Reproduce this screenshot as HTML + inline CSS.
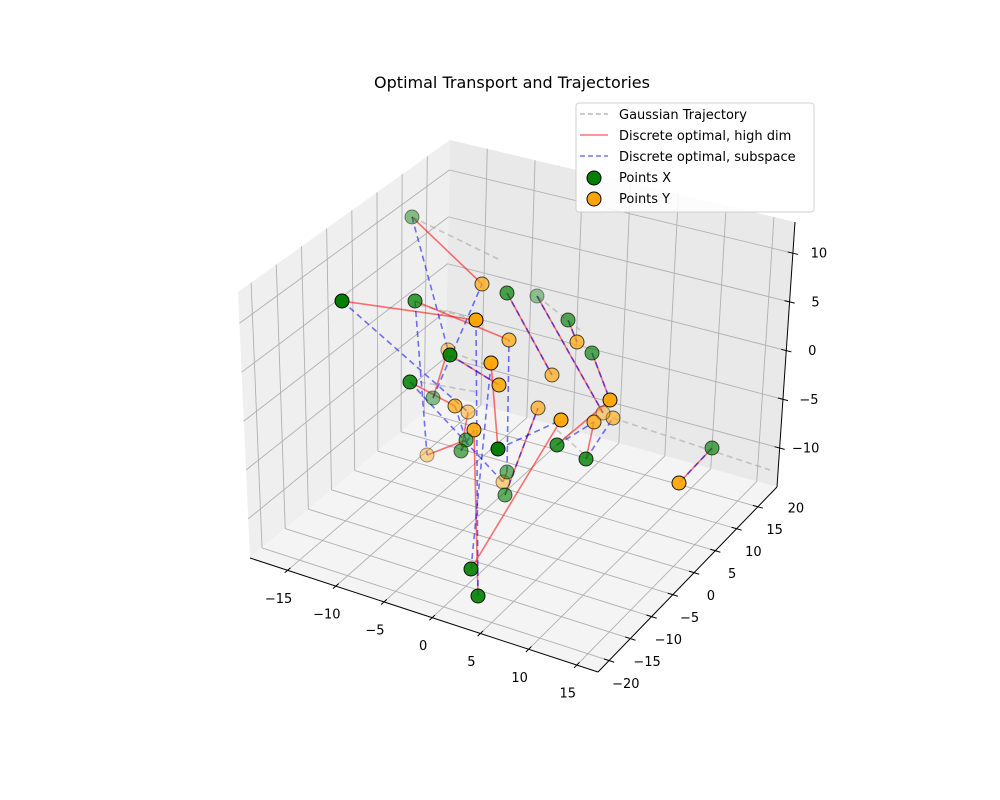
<!DOCTYPE html>
<html><head><meta charset="utf-8"><style>
body{margin:0;background:#fff}
svg{display:block;font-family:"DejaVu Sans","Liberation Sans",sans-serif}
</style></head><body>
<svg id="chart" width="1000" height="800" viewBox="0 0 1000 800">
<rect width="1000" height="800" fill="#fff"/>
<text x="512" y="88" text-anchor="middle" font-size="16">Optimal Transport and Trajectories</text>
<g id="panes"></g>
<g id="grid"></g>
<g id="axes"></g>
<g id="traj"></g>
<g id="red"></g>
<g id="blue"></g>
<g id="pts"></g>
<g>
<rect x="576" y="103" width="238" height="109" rx="3" fill="#fff" fill-opacity="0.85" stroke="#d0d0d0"/>
<line x1="580" y1="114" x2="608" y2="114" stroke="#b8b8b8" stroke-dasharray="5,3" stroke-width="1.5"/>
<text x="619" y="119" font-size="13">Gaussian Trajectory</text>
<line x1="580" y1="135" x2="608" y2="135" stroke="#ff0000" stroke-opacity="0.55" stroke-width="1.5"/>
<text x="619" y="140" font-size="13">Discrete optimal, high dim</text>
<line x1="580" y1="156" x2="608" y2="156" stroke="#0000ff" stroke-opacity="0.55" stroke-dasharray="5,3" stroke-width="1.5"/>
<text x="619" y="161" font-size="13">Discrete optimal, subspace</text>
<circle cx="594" cy="178" r="7" fill="green" stroke="#000"/>
<text x="619" y="182" font-size="13">Points X</text>
<circle cx="594" cy="199" r="7" fill="orange" stroke="#000"/>
<text x="619" y="203" font-size="13">Points Y</text>
</g>
</svg>
<script>
// ---- axis data ----
const xTicks=[-15,-10,-5,0,5,10,15];
const yTicks=[-20,-15,-10,-5,0,5,10,15,20];
const zTicks=[-10,-5,0,5,10];
const xRange=[-18.9,17.2], yRange=[-17.6,24.5], zRange=[-14.0,13.2];
// ---- series data (projected view-plane coordinates) ----
const xPtsU=[-8.8,-15.8,-8.5,0.7,3.7,6.8,9.2,-5.0,-9.0,-6.7,-3.4,-3.9,-0.2,5.7,8.6,21.2,0.7,0.5,-2.9,-2.2];
const xPtsV=[18.3,9.9,9.9,10.7,10.4,8.0,4.7,4.5,1.8,0.2,-4.0,-5.1,-4.9,-4.5,-5.9,-4.8,-7.2,-9.5,-16.9,-19.6];
const xPtsA=[0.45,1,0.75,0.7,0.4,0.65,0.65,0.9,0.85,0.45,0.6,0.6,1,0.8,0.8,0.65,0.55,0.6,0.9,0.9];
const yPtsU=[-1.8,-2.4,0.9,7.7,-5.2,-0.9,-0.1,5.2,-4.5,-3.2,3.8,-2.6,6.1,11.0,9.4,11.3,10.3,-7.3,0.3,17.9];
const yPtsV=[11.6,8.0,6.0,5.8,5.0,3.7,1.5,2.5,-0.6,-1.2,-0.8,-3.0,-2.0,0.0,-2.2,-1.8,-1.3,-5.5,-8.2,-8.3];
const yPtsA=[0.7,1,0.7,0.7,0.45,0.95,0.85,0.65,0.7,0.5,0.65,0.85,0.95,0.95,0.75,0.6,0.45,0.4,0.45,0.9];
const redPairs=[[0,0],[1,1],[2,2],[3,7],[4,16],[5,3],[6,13],[7,6],[8,8],[9,4],[10,17],[11,9],[12,5],[13,13],[14,14],[15,19],[16,18],[17,10],[18,12],[19,11]];
const bluePairs=[[0,4],[1,9],[2,17],[3,7],[4,16],[5,3],[6,13],[7,6],[8,18],[9,0],[10,8],[11,11],[12,12],[13,14],[14,15],[15,19],[16,2],[17,10],[18,5],[19,1]];
const trajStartU=[-8.8,-8,-3.8,-8,3.7,11.3,5.7];
const trajStartV=[18.3,9.5,4.4,1.8,10.4,-1.8,-3];
const trajEndU=[0,-3,0,-2.3,8,27,8.7];
const trajEndV=[14,8.2,3,0.8,7,-7,-5.7];

const NS="http://www.w3.org/2000/svg";
function mk(tag,parent,attrs){const e=document.createElementNS(NS,tag);for(const k in attrs)e.setAttribute(k,attrs[k]);parent.appendChild(e);return e;}
function su(u){return 500+u*10;}
function sv(v){return 400-v*10;}
const Cb=[[[250,558],[445,395]],[[598,672],[777,487]]];
const Ct=[[[238,292],[450,140]],[[599,396],[795,222]]];
function lerp(a,b,t){return a+(b-a)*t;}
function bil(C,fx,fy,i){return lerp(lerp(C[0][0][i],C[1][0][i],fx),lerp(C[0][1][i],C[1][1][i],fx),fy);}
function P(x,y,z){
 const fx=(x-xRange[0])/(xRange[1]-xRange[0]),fy=(y-yRange[0])/(yRange[1]-yRange[0]),fz=(z-zRange[0])/(zRange[1]-zRange[0]);
 return [lerp(bil(Cb,fx,fy,0),bil(Ct,fx,fy,0),fz),lerp(bil(Cb,fx,fy,1),bil(Ct,fx,fy,1),fz)];
}
const [x0,x1]=xRange,[y0,y1]=yRange,[z0,z1]=zRange;
const panes=document.getElementById('panes');
function poly(pts,fill,name){const e=mk('polygon',panes,{points:pts.map(p=>p.join(',')).join(' '),fill:fill});

}
poly([P(x0,y0,z0),P(x0,y0,z1),P(x0,y1,z1),P(x0,y1,z0)],'#efefef','left-pane');
poly([P(x0,y1,z0),P(x0,y1,z1),P(x1,y1,z1),P(x1,y1,z0)],'#e9e9e9','back-pane');
poly([P(x0,y0,z0),P(x0,y1,z0),P(x1,y1,z0),P(x1,y0,z0)],'#f4f4f4','floor-pane');
const grid=document.getElementById('grid');
function gl(a,b,name){const e=mk('line',grid,{x1:a[0],y1:a[1],x2:b[0],y2:b[1],stroke:'#b0b0b0','stroke-width':0.9});

}
xTicks.filter(t=>t>x0&&t<x1).forEach(t=>{gl(P(t,y0,z0),P(t,y1,z0),'gridline-x');gl(P(t,y1,z0),P(t,y1,z1),'gridline-x');});
yTicks.filter(t=>t>y0&&t<y1).forEach(t=>{gl(P(x0,t,z0),P(x1,t,z0),'gridline-y');gl(P(x0,t,z0),P(x0,t,z1),'gridline-y');});
zTicks.filter(t=>t>z0&&t<z1).forEach(t=>{gl(P(x0,y0,t),P(x0,y1,t),'gridline-z');gl(P(x0,y1,t),P(x1,y1,t),'gridline-z');});
const ax=document.getElementById('axes');
function al(a,b,name){const e=mk('line',ax,{x1:a[0],y1:a[1],x2:b[0],y2:b[1],stroke:'#000','stroke-width':1});

}
function tl(x,y,s,name){const e=mk('text',ax,{x:x,y:y,'text-anchor':'middle','dominant-baseline':'middle','font-size':13});e.textContent=s;

}
const fmt=t=>t<0?'\u2212'+(-t):String(t);
al(P(x0,y0,z0),P(x1,y0,z0),'x-axis-line');
al(P(x1,y0,z0),P(x1,y1,z0),'y-axis-line');
al(P(x1,y1,z0),P(x1,y1,z1),'z-axis-line');
const dy=(y1-y0)*0.015,dx=(x1-x0)*0.015;
xTicks.forEach(t=>{const p=P(t,y0,z0);if(t>x0&&t<x1)al(P(t,y0+dy,z0),P(t,y0-dy,z0),'x-tick');tl(p[0]-9,p[1]+29,fmt(t),'x-tick-label');});
yTicks.forEach(t=>{const p=P(x1,t,z0);if(t>y0&&t<y1)al(P(x1-dx,t,z0),P(x1+dx,t,z0),'y-tick');tl(p[0]+38,p[1]+2,fmt(t),'y-tick-label');});
zTicks.forEach(t=>{const p=P(x1,y1,t);al(P(x1-dx,y1,t),P(x1+dx,y1,t),'z-tick');tl(p[0]+26,p[1]+1,fmt(t),'z-tick-label');});
const traj=document.getElementById('traj');
trajStartU.forEach((u,i)=>{const e=mk('line',traj,{x1:su(u),y1:sv(trajStartV[i]),x2:su(trajEndU[i]),y2:sv(trajEndV[i]),stroke:'#a0a0a0','stroke-opacity':0.55,'stroke-width':1.6,'stroke-dasharray':'6,4'});

});
const red=document.getElementById('red');
redPairs.forEach(([g,o])=>{const e=mk('line',red,{x1:su(xPtsU[g]),y1:sv(xPtsV[g]),x2:su(yPtsU[o]),y2:sv(yPtsV[o]),stroke:'#ff0000','stroke-opacity':0.55,'stroke-width':1.6});

});
const blue=document.getElementById('blue');
bluePairs.forEach(([g,o])=>{const e=mk('line',blue,{x1:su(xPtsU[g]),y1:sv(xPtsV[g]),x2:su(yPtsU[o]),y2:sv(yPtsV[o]),stroke:'#0000ff','stroke-opacity':0.55,'stroke-width':1.6,'stroke-dasharray':'6,4'});

});
const pts=document.getElementById('pts');
yPtsU.forEach((u,i)=>{const e=mk('circle',pts,{cx:su(u),cy:sv(yPtsV[i]),r:7,fill:'orange','fill-opacity':yPtsA[i],stroke:'#000','stroke-opacity':yPtsA[i]});

});
xPtsU.forEach((u,i)=>{const e=mk('circle',pts,{cx:su(u),cy:sv(xPtsV[i]),r:7,fill:'green','fill-opacity':xPtsA[i],stroke:'#000','stroke-opacity':xPtsA[i]});

});
</script>
</body></html>
